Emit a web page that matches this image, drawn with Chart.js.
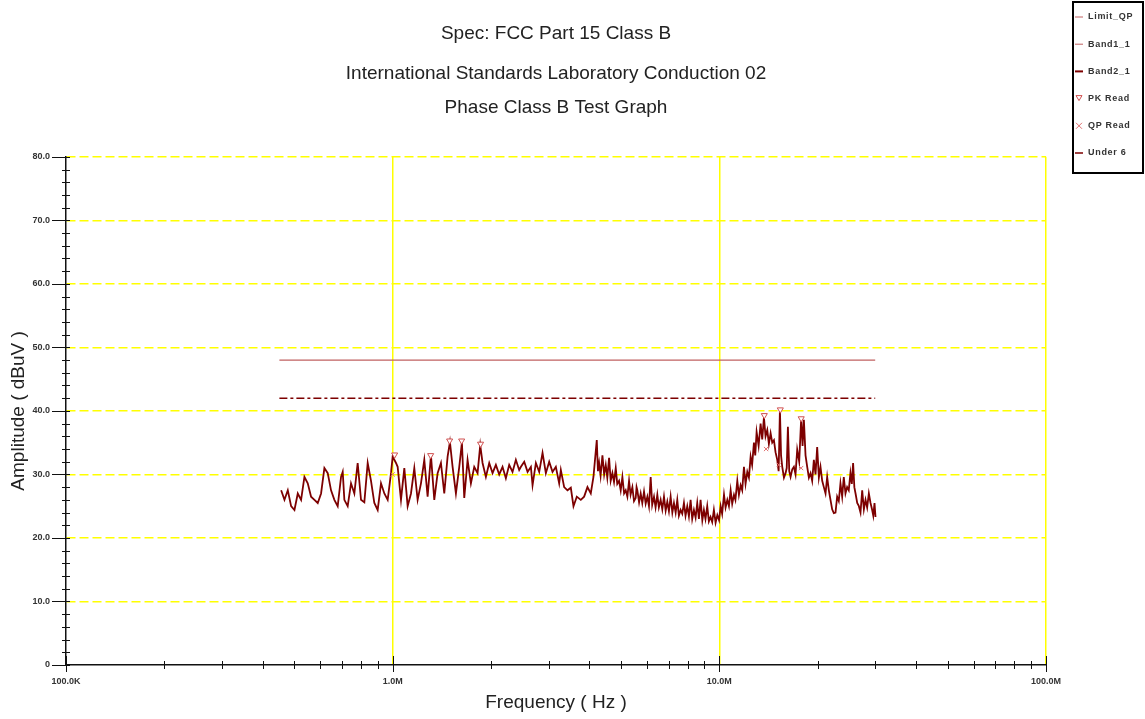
<!DOCTYPE html>
<html>
<head>
<meta charset="utf-8">
<title>FCC Part 15 Class B</title>
<script src="https://cdn.jsdelivr.net/npm/chart.js@4/dist/chart.umd.min.js"></script>
<style>
  html, body { margin: 0; padding: 0; background: #fff; }
  #wrap { width: 1145px; height: 719px; }
</style>
</head>
<body>
<div id="wrap"><canvas id="emcChart" width="1145" height="719"></canvas></div>
<script>
// frequencies in MHz, amplitudes in dBuV
const traceFreq = [
  0.4556, 0.4664, 0.4775, 0.4888, 0.5004, 0.5123, 0.5244, 0.5369, 0.5496, 0.5626,
  0.5761, 0.5897, 0.6037, 0.6180, 0.6327, 0.6477, 0.6631, 0.6788, 0.6950, 0.7032,
  0.7114, 0.7283, 0.7456, 0.7633, 0.7814, 0.8000, 0.8190, 0.8386, 0.8584, 0.8788,
  0.8997, 0.9211, 0.9430, 0.9654, 0.9883, 1.0000, 1.0238,
  1.0358, 1.0604, 1.0856, 1.1114, 1.1378, 1.1648, 1.1924, 1.2208, 1.2497, 1.2794,
  1.3098, 1.3409, 1.3727, 1.4053, 1.4387, 1.4729, 1.4973, 1.5257, 1.5619, 1.5990,
  1.6293, 1.6563, 1.6956, 1.7358, 1.7771, 1.8193, 1.8538, 1.8845, 1.9292, 1.9750,
  2.0219, 2.0701, 2.1192, 2.1695, 2.2210, 2.2737, 2.3277, 2.3830, 2.4396,
  2.4694, 2.5280, 2.5880, 2.6494, 2.6806, 2.7442, 2.8093, 2.8760, 2.9442, 3.0141,
  3.0856, 3.1588, 3.2338, 3.2719, 3.3496, 3.4290, 3.5104, 3.5770, 3.6619, 3.7664,
  3.8558, 3.9473, 4.0409, 4.1175,
  4.2152, 4.25, 4.2851, 4.33, 4.3868, 4.44, 4.4909, 4.54, 4.5974, 4.65,
  4.7065, 4.76, 4.8182, 4.87, 4.9325, 4.99, 5.0495, 5.11, 5.1694, 5.23,
  5.2920, 5.35, 5.4175, 5.48, 5.5461, 5.58, 5.6116, 5.68, 5.7447, 5.81,
  5.8810, 5.95, 6.0205, 6.09, 6.1633, 6.23, 6.3096, 6.38, 6.4592, 6.53,
  6.6125, 6.69, 6.7695, 6.85, 6.9300, 7.01, 7.0944, 7.18, 7.2628, 7.35,
  7.4351, 7.52, 7.6115, 7.70, 7.7922, 7.88, 7.9770, 8.07, 8.1663, 8.26,
  8.3602, 8.46, 8.5585, 8.66, 8.7616, 8.87, 8.9696, 9.07, 9.1824, 9.29,
  9.4002, 9.51, 9.6234, 9.74, 9.8601, 9.98,
  10.094, 10.2, 10.334, 10.45, 10.579, 10.7, 10.830, 10.95, 11.087, 11.2,
  11.351, 11.48, 11.620, 11.75, 11.896, 12.03, 12.178, 12.32, 12.467, 12.6,
  12.763, 12.88, 13.005, 13.19, 13.377, 13.53, 13.695, 13.85, 14.020, 14.18,
  14.353, 14.52, 14.694, 14.86, 15.042, 15.19, 15.328, 15.45, 15.581, 15.77,
  15.950, 16.08, 16.215, 16.37, 16.522, 16.72, 16.914, 17.11, 17.315, 17.56,
  17.810, 17.98, 18.148, 18.36, 18.578, 18.8, 19.019, 19.24, 19.470, 19.7,
  19.931, 20.17, 20.404, 20.65, 20.889, 21.14, 21.384, 21.64, 21.892, 22.15,
  22.411, 22.68, 22.943, 23.21, 23.487, 23.77, 24.044, 24.33, 24.614, 24.9,
  25.198, 25.44, 25.676, 25.9, 26.120, 26.43, 26.740, 27.05, 27.374, 27.7,
  28.024, 28.35, 28.689, 29.03, 29.369, 29.6, 29.855, 30.066
];
const traceAmp = [
  27.5, 26.0, 27.5, 25.0, 24.4, 27.0, 26.0, 29.6, 28.6, 26.5,
  26.0, 25.5, 27.0, 31.0, 30.2, 27.5, 26.0, 25.0, 29.6, 30.4,
  26.0, 25.0, 28.6, 27.0, 31.8, 26.0, 25.6, 31.8, 29.0, 25.5,
  24.4, 28.6, 27.0, 26.0, 30.2, 32.8, 31.8,
  31.2, 26.0, 31.0, 25.0, 27.0, 31.0, 26.0, 28.6, 32.3, 26.5,
  33.0, 26.0, 30.2, 31.8, 27.0, 32.8, 35.1, 31.2, 27.0, 31.2,
  35.0, 26.3, 32.3, 28.6, 31.2, 30.2, 34.6, 31.8, 29.6, 31.8,
  30.2, 31.5, 30.0, 31.2, 29.4, 31.5, 30.4, 32.3, 30.7,
  31.2, 32.0, 30.4, 31.2, 28.3, 31.8, 30.4, 33.4, 30.2, 32.0,
  30.4, 31.2, 28.6, 30.7, 28.0, 27.5, 27.9, 25.0, 26.5, 26.0,
  26.5, 28.0, 27.0, 29.6,
  35.4, 30.5, 31.8, 29.8, 33.0, 30.0, 31.5, 29.5, 32.6, 29.0,
  30.2, 28.8, 31.0, 28.5, 29.0, 27.5, 29.6, 27.0, 27.5, 26.5,
  29.0, 26.8, 28.0, 25.8, 26.3, 28.0, 27.5, 25.6, 27.0, 25.5,
  27.3, 25.4, 26.5, 25.0, 29.6, 25.2, 26.5, 24.8, 26.8, 24.8,
  26.0, 24.5, 26.5, 24.3, 25.7, 24.2, 26.5, 24.0, 25.5, 24.0,
  26.0, 23.5, 24.4, 23.8, 25.5, 23.5, 25.0, 23.4, 26.0, 23.0,
  24.4, 23.2, 25.5, 23.0, 26.0, 22.8, 24.4, 23.0, 25.0, 22.6,
  23.3, 22.5, 24.4, 22.4, 23.6, 22.8,
  25.0, 23.8, 26.8, 24.8, 26.0, 25.0, 27.5, 25.4, 26.8, 26.0,
  29.0, 26.8, 28.3, 27.5, 31.2, 28.5, 30.4, 29.5, 32.8, 31.5,
  35.0, 33.0, 36.7, 34.5, 38.0, 35.5, 39.0, 36.0, 37.0, 34.8,
  36.5, 35.0, 35.4, 33.5, 32.3, 30.5, 40.2, 33.0, 31.2, 29.5,
  30.2, 31.0, 37.5, 30.5, 29.6, 30.8, 31.2, 30.0, 33.9, 32.0,
  38.9, 34.5, 38.6, 33.0, 31.2, 29.5, 30.2, 29.0, 32.3, 30.0,
  34.3, 29.5, 31.2, 29.0, 28.0, 27.0, 29.6, 27.5, 26.0, 24.5,
  23.9, 24.0, 26.5, 25.8, 28.6, 26.5, 29.6, 27.0, 28.0, 27.5,
  30.2, 28.5, 31.8, 28.0, 27.0, 25.5, 25.0, 24.0, 27.5, 24.5,
  26.0, 24.8, 27.0, 25.5, 24.4, 23.5, 25.5, 23.3
];
const limitFreq = [0.45, 30];
const limitAmp = [48, 48];
const under6Freq = [0.45, 30];
const under6Amp = [42, 42];
const pkFreq = [1.014, 1.307, 1.494, 1.626, 1.858, 13.73, 15.37, 17.81];
const pkAmp = [33.1, 33.0, 35.3, 35.3, 34.8, 39.3, 40.2, 38.8];
const qpFreq = [1.0, 13.9, 15.2, 17.8];
const qpAmp = [30.0, 34.0, 31.5, 31.0];

const xMajorTicks = [0.1, 1, 10, 100];
const xMajorLabels = ['100.0K', '1.0M', '10.0M', '100.0M'];
const xMinorTicks = [0.2, 0.3, 0.4, 0.5, 0.6, 0.7, 0.8, 0.9,
                     2, 3, 4, 5, 6, 7, 8, 9,
                     20, 30, 40, 50, 60, 70, 80, 90];
const yTicks = [0, 2, 4, 6, 8, 10, 12, 14, 16, 18, 20, 22, 24, 26, 28, 30, 32, 34, 36, 38, 40,
                42, 44, 46, 48, 50, 52, 54, 56, 58, 60, 62, 64, 66, 68, 70, 72, 74, 76, 78, 80];
const yMajorTicks = [0, 10, 20, 30, 40, 50, 60, 70, 80];
const yMajorLabels = ['0', '10.0', '20.0', '30.0', '40.0', '50.0', '60.0', '70.0', '80.0'];

const toPoints = (fs, as) => fs.map((f, i) => ({ x: f, y: as[i] }));
const FONT = "Arial, 'Liberation Sans', sans-serif";

// black tick marks crossing both axes
const axisTicks = {
  id: 'axisTicks',
  afterDraw(chart) {
    const { ctx, chartArea: a } = chart;
    const xs = chart.scales.x, ys = chart.scales.y;
    ctx.save();
    ctx.strokeStyle = '#111';
    ctx.lineWidth = 1;
    ctx.beginPath();
    xs.ticks.forEach(t => {
      const px = Math.round(xs.getPixelForValue(t.value)) + 0.5;
      const major = xMajorTicks.includes(t.value);
      ctx.moveTo(px, a.bottom - (major ? 9 : 4));
      ctx.lineTo(px, a.bottom + (major ? 7 : 4));
    });
    ys.ticks.forEach(t => {
      const py = Math.round(ys.getPixelForValue(t.value)) + 0.5;
      const major = yMajorTicks.includes(t.value);
      ctx.moveTo(a.left - (major ? 14 : 4), py);
      ctx.lineTo(a.left + 4, py);
    });
    ctx.stroke();
    ctx.restore();
  }
};

// boxed legend at the top right
const boxLegend = {
  id: 'boxLegend',
  afterDraw(chart) {
    const ctx = chart.ctx;
    ctx.save();
    ctx.fillStyle = '#fff';
    ctx.fillRect(1073, 2, 70, 171);
    ctx.strokeStyle = '#000';
    ctx.lineWidth = 2;
    ctx.strokeRect(1073, 2, 70, 171);
    ctx.font = 'bold 9px ' + FONT;
    ctx.letterSpacing = '0.7px';
    ctx.textBaseline = 'middle';
    chart.data.datasets.forEach((ds, i) => {
      const y = 17 + i * 27.2;
      ctx.strokeStyle = ds.borderColor;
      ctx.lineWidth = ds.legendWidth || 1;
      ctx.beginPath();
      if (ds.pointStyle === 'triangle') {
        ctx.moveTo(1076, y - 3); ctx.lineTo(1082, y - 3); ctx.lineTo(1079, y + 2); ctx.closePath();
      } else if (ds.pointStyle === 'crossRot') {
        ctx.moveTo(1076, y - 3); ctx.lineTo(1082, y + 3);
        ctx.moveTo(1082, y - 3); ctx.lineTo(1076, y + 3);
      } else {
        ctx.moveTo(1075, y); ctx.lineTo(1083, y);
      }
      ctx.stroke();
      ctx.fillStyle = '#333';
      ctx.fillText(ds.label, 1088, y);
    });
    ctx.restore();
  }
};

new Chart(document.getElementById('emcChart'), {
  type: 'line',
  data: {
    datasets: [
      { label: 'Limit_QP', data: toPoints(limitFreq, limitAmp), borderColor: '#c06060',
        borderWidth: 1.2, pointRadius: 0 },
      { label: 'Band1_1', data: [], borderColor: '#c06060', borderWidth: 1, pointRadius: 0 },
      { label: 'Band2_1', data: toPoints(traceFreq, traceAmp), borderColor: '#7d0000',
        borderWidth: 1.8, pointRadius: 0, legendWidth: 2 },
      { label: 'PK Read', data: toPoints(pkFreq, pkAmp), showLine: false, order: -1,
        pointStyle: 'triangle', rotation: 180, pointRadius: 3.5, borderWidth: 1,
        borderColor: '#d05050', backgroundColor: '#fff' },
      { label: 'QP Read', data: toPoints(qpFreq, qpAmp), showLine: false, order: -1,
        pointStyle: 'crossRot', pointRadius: 3, borderWidth: 1,
        borderColor: '#e07070', backgroundColor: '#e07070' },
      { label: 'Under 6', data: toPoints(under6Freq, under6Amp), borderColor: '#7d0000',
        borderWidth: 1.4, borderDash: [8, 3, 3, 3], pointRadius: 0, legendWidth: 1.5 }
    ]
  },
  options: {
    responsive: false,
    animation: false,
    layout: { padding: { top: 0, right: 99, bottom: 0, left: 0 } },
    plugins: {
      legend: { display: false },
      tooltip: { enabled: false },
      title: {
        display: true, text: 'Spec: FCC Part 15 Class B', fullSize: false, color: '#222',
        font: { family: FONT, size: 19, weight: 'normal', lineHeight: 1.2 },
        padding: { top: 22, bottom: 12 }
      },
      subtitle: {
        display: true, fullSize: false, color: '#222',
        text: ['International Standards Laboratory Conduction 02', 'Phase Class B Test Graph'],
        font: { family: FONT, size: 19, weight: 'normal', lineHeight: '34px' },
        padding: { top: 0, bottom: 32 }
      }
    },
    scales: {
      x: {
        type: 'logarithmic', min: 0.1, max: 100,
        afterBuildTicks: s => { s.ticks = xMajorTicks.concat(xMinorTicks).sort((a, b) => a - b).map(v => ({ value: v })); },
        afterFit: s => { s.height = 54; },
        ticks: {
          autoSkip: false, maxRotation: 0, padding: 11, color: '#333',
          font: { family: FONT, size: 9, weight: 'bold' },
          callback: v => { const i = xMajorTicks.indexOf(v); return i >= 0 ? xMajorLabels[i] : ''; }
        },
        grid: {
          drawTicks: false, lineWidth: 1.5,
          color: c => (c.tick && c.tick.value > 0.1 && xMajorTicks.includes(c.tick.value)) ? '#ffff00' : 'rgba(0,0,0,0)'
        },
        border: { color: '#111', width: 1.5 },
        title: {
          display: true, text: 'Frequency ( Hz )', color: '#222',
          font: { family: FONT, size: 19, lineHeight: 1.2 }, padding: { top: 0, bottom: 5 }
        }
      },
      y: {
        type: 'linear', min: 0, max: 80,
        afterBuildTicks: s => { s.ticks = yTicks.map(v => ({ value: v })); },
        afterFit: s => { s.width = 66; },
        ticks: {
          autoSkip: false, padding: 16, color: '#333',
          font: { family: FONT, size: 9, weight: 'bold' },
          callback: v => { const i = yMajorTicks.indexOf(v); return i >= 0 ? yMajorLabels[i] : ''; }
        },
        grid: {
          drawTicks: false, lineWidth: 1.5,
          color: c => (c.tick && c.tick.value > 0 && yMajorTicks.includes(c.tick.value)) ? '#ffff00' : 'rgba(0,0,0,0)'
        },
        border: { color: '#111', width: 1.5, dash: [9, 4] },
        title: {
          display: true, text: 'Amplitude ( dBuV )', color: '#222',
          font: { family: FONT, size: 19, lineHeight: 1.2 }, padding: { top: 7, bottom: 0 }
        }
      }
    }
  },
  plugins: [axisTicks, boxLegend]
});
</script>
</body>
</html>
